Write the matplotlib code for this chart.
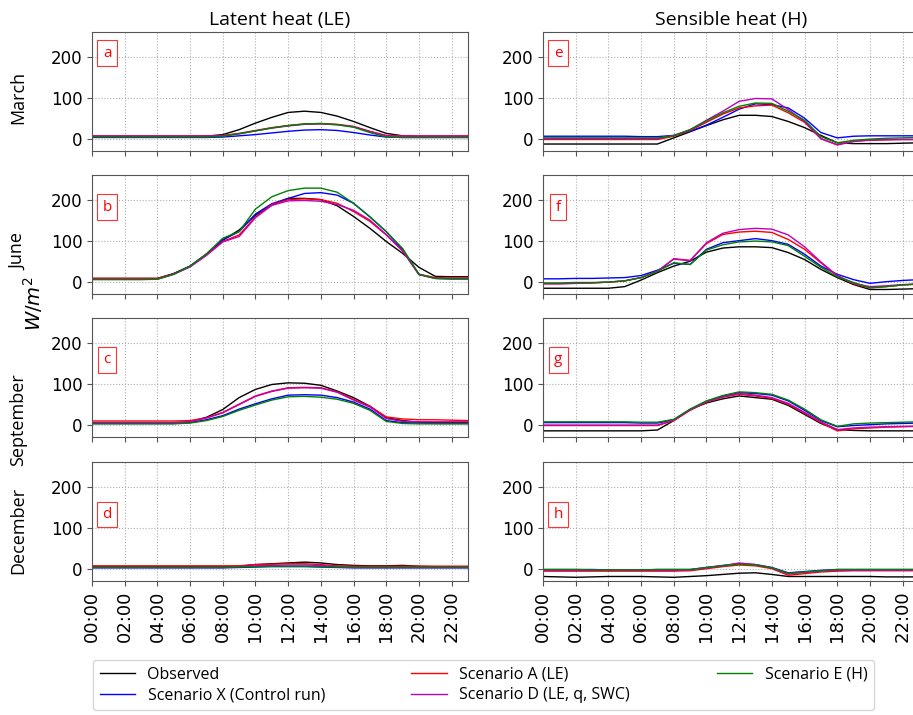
import numpy as np
import matplotlib
matplotlib.use("Agg")
import matplotlib.pyplot as plt

hours = list(range(24))
tick_hours = list(range(0, 24, 2))
tick_labels = ["%02d:00" % h for h in tick_hours]

months = ["March", "June", "September", "December"]
columns = ["Latent heat (LE)", "Sensible heat (H)"]
panel_letters = [["a", "e"], ["b", "f"], ["c", "g"], ["d", "h"]]
letter_y = [208, 182, 158, 132]

series_names = ["Observed", "Scenario X (Control run)", "Scenario A (LE)",
                "Scenario D (LE, q, SWC)", "Scenario E (H)"]
series_colors = ["black", "blue", "red", "m", "green"]

# March, LE
le_mar_obs = [5, 5, 5, 5, 5, 5, 5, 6, 10, 22, 38, 52, 64, 67, 64, 55, 42, 27, 13, 7, 5, 5, 5, 5]
le_mar_x = [3, 3, 3, 3, 3, 3, 3, 3, 4, 7, 10, 14, 18, 21, 22, 20, 15, 9, 4, 3, 3, 3, 3, 3]
le_mar_a = [7, 7, 7, 7, 7, 7, 7, 7, 8, 13, 20, 27, 32, 36, 37, 35, 30, 18, 8, 7, 7, 7, 7, 7]
le_mar_d = [6, 6, 6, 6, 6, 6, 6, 6, 7, 12, 19, 26, 31, 35, 36, 34, 29, 17, 7, 6, 6, 6, 6, 6]
le_mar_e = [4, 4, 4, 4, 4, 4, 4, 4, 6, 12, 19, 26, 32, 36, 37, 34, 28, 15, 4, 3, 3, 3, 3, 3]
# March, H
h_mar_obs = [-13, -13, -13, -13, -13, -13, -13, -13, 2, 17, 32, 46, 57, 57, 54, 42, 27, 8, -10, -12, -12, -12, -11, -10]
h_mar_x = [6, 6, 6, 6, 6, 6, 5, 5, 8, 18, 33, 52, 72, 85, 83, 75, 50, 15, 2, 6, 7, 7, 7, 7]
h_mar_a = [-2, -2, -2, -2, -2, -2, -2, -2, 6, 20, 40, 60, 75, 80, 82, 63, 40, 0, -15, -6, -4, -3, -2, -2]
h_mar_d = [0, 0, 0, 0, 0, 0, 0, 0, 8, 22, 45, 67, 91, 98, 97, 71, 42, 0, -15, -7, -3, -2, -2, -2]
h_mar_e = [2, 2, 2, 2, 2, 2, 2, 2, 7, 22, 43, 63, 79, 87, 86, 67, 45, 5, -10, -4, -1, 1, 2, 3]

# June, LE
le_jun_obs = [8, 8, 8, 8, 8, 20, 38, 67, 101, 126, 162, 187, 203, 203, 200, 185, 159, 130, 98, 69, 35, 13, 12, 12]
le_jun_x = [7, 7, 7, 7, 7, 19, 38, 67, 102, 122, 165, 190, 203, 215, 217, 211, 191, 158, 122, 78, 18, 8, 7, 7]
le_jun_a = [8, 8, 8, 8, 8, 19, 37, 65, 98, 114, 158, 188, 200, 202, 200, 191, 171, 147, 114, 75, 18, 10, 9, 9]
le_jun_d = [6, 6, 6, 6, 6, 18, 36, 64, 97, 110, 156, 186, 197, 198, 196, 188, 174, 150, 115, 75, 17, 8, 7, 7]
le_jun_e = [5, 5, 5, 5, 6, 18, 38, 68, 106, 122, 177, 207, 222, 228, 228, 218, 191, 158, 122, 81, 18, 8, 7, 7]
# June, H
h_jun_obs = [-16, -16, -16, -16, -16, -12, 4, 22, 38, 50, 72, 82, 85, 85, 83, 71, 54, 30, 10, -7, -19, -19, -18, -17]
h_jun_x = [7, 7, 8, 8, 9, 10, 15, 28, 45, 42, 79, 95, 100, 105, 100, 91, 67, 38, 18, 5, -4, 0, 3, 5]
h_jun_a = [-5, -5, -4, -3, -1, 2, 10, 25, 56, 52, 93, 115, 121, 123, 120, 103, 79, 46, 14, -5, -15, -12, -8, -6]
h_jun_d = [-5, -5, -4, -3, -1, 2, 10, 26, 55, 51, 95, 118, 127, 130, 128, 114, 85, 48, 15, -4, -12, -10, -7, -6]
h_jun_e = [-3, -3, -2, -2, -1, 2, 10, 25, 46, 42, 77, 90, 97, 99, 97, 88, 62, 35, 12, -2, -15, -12, -8, -5]

# September, LE
le_sep_obs = [5, 5, 5, 5, 5, 5, 7, 18, 37, 66, 86, 98, 102, 101, 96, 82, 66, 45, 17, 10, 6, 5, 5, 5]
le_sep_x = [3, 3, 3, 3, 3, 3, 5, 12, 22, 38, 51, 63, 72, 73, 72, 66, 55, 38, 10, 5, 4, 3, 3, 3]
le_sep_a = [9, 9, 9, 9, 9, 9, 10, 17, 30, 50, 70, 82, 90, 91, 90, 80, 62, 45, 19, 14, 12, 12, 11, 10]
le_sep_d = [5, 5, 5, 5, 5, 5, 7, 16, 29, 49, 69, 81, 89, 90, 89, 79, 60, 43, 15, 8, 7, 7, 7, 7]
le_sep_e = [2, 2, 2, 2, 2, 2, 4, 10, 20, 35, 48, 60, 68, 69, 67, 62, 52, 35, 8, 3, 2, 2, 2, 2]
# September, H
h_sep_obs = [-15, -15, -15, -15, -15, -15, -15, -13, 10, 37, 53, 63, 70, 66, 62, 47, 25, 3, -12, -14, -15, -15, -15, -15]
h_sep_x = [5, 5, 5, 5, 5, 5, 4, 4, 12, 37, 57, 70, 78, 76, 72, 58, 35, 10, -5, -2, 0, 2, 3, 4]
h_sep_a = [-2, -2, -2, -2, -2, -2, -2, -2, 10, 35, 55, 67, 74, 70, 64, 50, 28, 5, -15, -10, -8, -6, -5, -4]
h_sep_d = [-1, -1, -1, -1, -1, -1, -1, -1, 11, 36, 56, 68, 76, 72, 66, 52, 30, 7, -12, -8, -6, -5, -4, -4]
h_sep_e = [7, 7, 7, 7, 7, 7, 6, 6, 13, 38, 58, 71, 80, 78, 74, 60, 38, 12, -4, 2, 4, 5, 6, 7]

# December, LE
le_dec_obs = [5, 5, 5, 5, 5, 5, 5, 5, 5, 6, 10, 12, 14, 16, 14, 10, 8, 7, 7, 8, 6, 5, 5, 5]
le_dec_x = [2, 2, 2, 2, 2, 2, 2, 2, 2, 3, 4, 5, 5, 5, 4, 3, 2, 2, 2, 2, 2, 2, 2, 2]
le_dec_a = [7, 7, 7, 7, 7, 7, 7, 7, 7, 7, 10, 11, 12, 12, 10, 7, 6, 6, 6, 6, 6, 6, 6, 6]
le_dec_d = [4, 4, 4, 4, 4, 4, 4, 4, 4, 5, 7, 8, 9, 9, 8, 5, 4, 4, 4, 4, 4, 4, 4, 4]
le_dec_e = [3, 3, 3, 3, 3, 3, 3, 3, 3, 4, 5, 6, 6, 6, 5, 4, 3, 3, 3, 3, 3, 3, 3, 3]
# December, H
h_dec_obs = [-19, -20, -21, -20, -19, -19, -19, -20, -21, -19, -17, -14, -11, -10, -14, -19, -19, -19, -19, -19, -19, -20, -20, -20]
h_dec_x = [-2, -2, -2, -2, -3, -3, -3, -2, -2, -2, 3, 8, 12, 10, 3, -10, -7, -4, -2, -2, -2, -2, -2, -2]
h_dec_a = [-6, -6, -6, -6, -6, -6, -6, -6, -6, -5, 0, 5, 9, 7, 0, -16, -12, -8, -6, -5, -5, -5, -5, -5]
h_dec_d = [-4, -4, -4, -4, -4, -4, -4, -4, -4, -3, 2, 7, 14, 10, 2, -13, -9, -6, -4, -4, -4, -4, -4, -4]
h_dec_e = [-2, -2, -2, -3, -3, -3, -3, -2, -2, -2, 3, 7, 11, 9, 2, -11, -8, -5, -2, -2, -2, -2, -2, -2]

panels = [
    [[le_mar_obs, le_mar_x, le_mar_a, le_mar_d, le_mar_e],
     [h_mar_obs, h_mar_x, h_mar_a, h_mar_d, h_mar_e]],
    [[le_jun_obs, le_jun_x, le_jun_a, le_jun_d, le_jun_e],
     [h_jun_obs, h_jun_x, h_jun_a, h_jun_d, h_jun_e]],
    [[le_sep_obs, le_sep_x, le_sep_a, le_sep_d, le_sep_e],
     [h_sep_obs, h_sep_x, h_sep_a, h_sep_d, h_sep_e]],
    [[le_dec_obs, le_dec_x, le_dec_a, le_dec_d, le_dec_e],
     [h_dec_obs, h_dec_x, h_dec_a, h_dec_d, h_dec_e]],
]

W, H = 913, 715
fig = plt.figure(figsize=(W / 100, H / 100), dpi=100)

col_left = [92, 543]
ax_w = 376
row_top = [32, 175, 318, 462]
ax_h = 119
month_y = [97, 252, 420, 530]

for r in range(4):
    for c in range(2):
        ax = fig.add_axes([col_left[c] / W, 1 - (row_top[r] + ax_h) / H, ax_w / W, ax_h / H])
        for vals, name, col in zip(panels[r][c], series_names, series_colors):
            ax.plot(hours, vals, color=col, lw=1, label=name)
        ax.set_xlim(0, 23)
        ax.set_ylim(-30, 260)
        ax.set_yticks([0, 100, 200])
        ax.set_xticks(tick_hours)
        ax.grid(True, ls=":", color="#b0b0b0", lw=0.8)
        ax.tick_params(labelsize=12, color="#555555")
        for s in ax.spines.values():
            s.set_color("#555555")
        if r == 3:
            ax.set_xticklabels(tick_labels, rotation=90, fontsize=13)
        else:
            ax.set_xticklabels([])
        if r == 0:
            ax.set_title(columns[c], family="Open Sans", fontsize=14, pad=5)
        ax.text(0.04, letter_y[r], panel_letters[r][c], transform=ax.get_yaxis_transform(),
                color="red", fontsize=11, ha="center", va="center", family="Open Sans",
                bbox=dict(boxstyle="square,pad=0.35", fc="white", ec="red", lw=0.8, alpha=0.8))
        if r == 0 and c == 0:
            handles, labels = ax.get_legend_handles_labels()

for r in range(4):
    fig.text(18 / W, 1 - month_y[r] / H, months[r], rotation=90, ha="center", va="center",
             family="Open Sans", fontsize=13)

fig.text(33 / W, 1 - 304 / H, r"$W/m^2$", rotation=90, ha="center", va="center", fontsize=14)

fig.legend(handles, labels, ncol=3, loc="lower left", mode="expand",
           bbox_to_anchor=(90 / W, 2 / H, 787 / W, 55 / H),
           prop={"family": "Open Sans", "size": 11.5}, frameon=True,
           handlelength=2.2, borderaxespad=0.2, labelspacing=0.3)

fig.savefig("out.png", dpi=100)
